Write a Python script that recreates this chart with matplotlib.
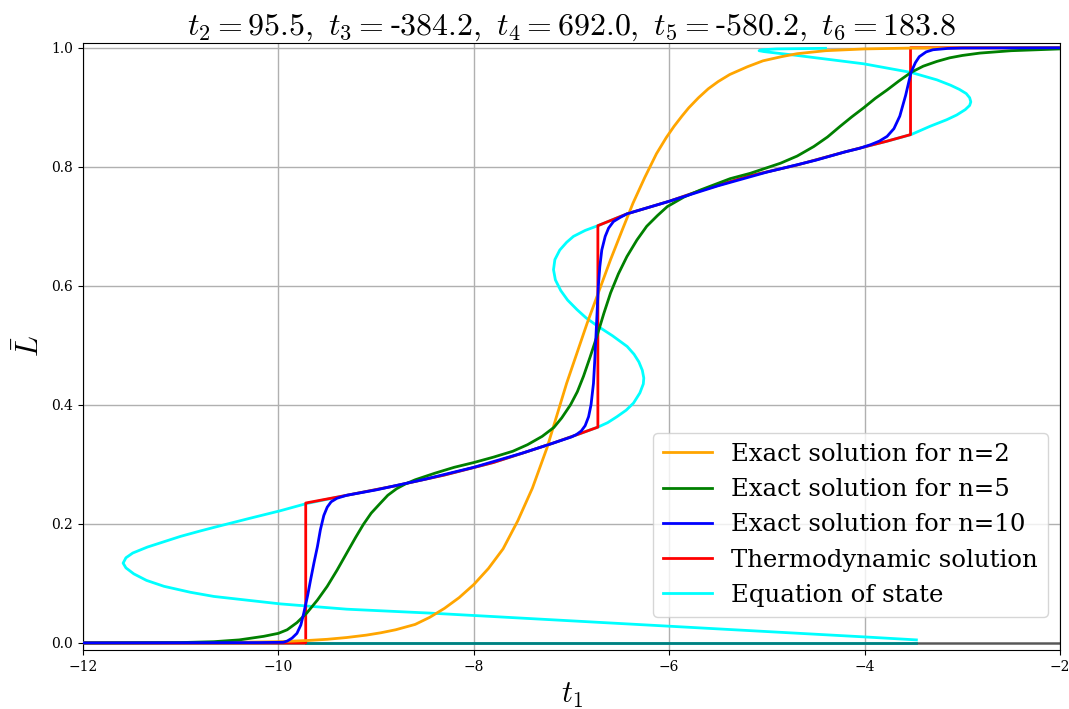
import matplotlib
matplotlib.use("Agg")
import matplotlib.pyplot as plt

plt.rcParams['font.family'] = 'DejaVu Serif'
plt.rcParams['mathtext.fontset'] = 'cm'

# couplings shown in the title
coupling_names = ['t_2', 't_3', 't_4', 't_5', 't_6']
coupling_values = [95.5, -384.2, 692.0, -580.2, 183.8]

# exact solution, n=2
n2_t1 = [-12.0, -10.5, -10.0, -9.7, -9.5, -9.3, -9.1, -8.95, -8.8, -8.6, -8.45, -8.3, -8.15,
         -8.0, -7.85, -7.7, -7.55, -7.4, -7.25, -7.05, -6.84, -6.6, -6.48, -6.37, -6.25,
         -6.13, -6.03, -5.95, -5.87, -5.8, -5.7, -5.6, -5.5, -5.38, -5.2, -5.04, -4.85, -4.69,
         -4.4, -4.0, -3.5, -2.0]
n2_L = [0.0, 0.0008, 0.002, 0.004, 0.006, 0.009, 0.013, 0.017, 0.022, 0.031, 0.043, 0.058, 0.076,
        0.098, 0.125, 0.158, 0.205, 0.260, 0.328, 0.436, 0.537, 0.644, 0.694, 0.739, 0.782,
        0.822, 0.849, 0.868, 0.885, 0.899, 0.916, 0.931, 0.943, 0.955, 0.968, 0.978, 0.985, 0.990,
        0.995, 0.998, 0.9995, 1.0]

# exact solution, n=5
n5_t1 = [-12.0, -11.0, -10.66, -10.4, -10.15, -10.0, -9.91, -9.81, -9.71, -9.6, -9.5, -9.4,
         -9.3, -9.21, -9.13, -9.05, -8.96, -8.88, -8.79, -8.7, -8.6, -8.4, -8.2, -8.0, -7.8,
         -7.6, -7.45, -7.3, -7.18, -7.1, -7.01, -6.94, -6.877, -6.81, -6.74, -6.67, -6.6,
         -6.52, -6.433, -6.33, -6.23, -6.12, -6.02, -5.85, -5.68, -5.376, -5.17, -4.86, -4.69,
         -4.52, -4.38, -4.25, -4.13, -4.01, -3.89, -3.77, -3.65, -3.525, -3.4, -3.26, -3.13,
         -3.0, -2.82, -2.5, -2.0]
n5_L = [0.0, 0.0005, 0.002, 0.005, 0.011, 0.016, 0.022, 0.034, 0.050, 0.072, 0.095, 0.122,
        0.151, 0.177, 0.199, 0.218, 0.234, 0.248, 0.259, 0.267, 0.274, 0.285, 0.295, 0.303, 0.312,
        0.322, 0.333, 0.347, 0.362, 0.378, 0.400, 0.422, 0.448, 0.480, 0.515, 0.553, 0.588,
        0.620, 0.649, 0.677, 0.700, 0.718, 0.733, 0.749, 0.761, 0.780, 0.789, 0.806, 0.818,
        0.834, 0.850, 0.868, 0.884, 0.899, 0.915, 0.929, 0.944, 0.9585, 0.969, 0.977, 0.983,
        0.987, 0.991, 0.995, 0.998]

# exact solution, n=10
n10_t1 = [-12.0, -10.2, -9.95, -9.91, -9.86, -9.81, -9.77, -9.74, -9.70, -9.67, -9.635, -9.60,
          -9.57, -9.535, -9.50, -9.46, -9.40, -9.30, -9.0, -8.5, -8.0, -7.5, -7.2, -7.0, -6.95,
          -6.90, -6.86, -6.825, -6.80, -6.775, -6.76, -6.74, -6.725, -6.71, -6.69, -6.655,
          -6.62, -6.57, -6.50, -6.43, -6.0, -5.5, -5.0, -4.5, -4.2, -4.05, -3.94, -3.85, -3.77,
          -3.70, -3.64, -3.58, -3.525, -3.48, -3.44, -3.37, -3.30, -3.15, -3.0, -2.0]
n10_L = [0.0, 0.0005, 0.001, 0.003, 0.008, 0.016, 0.030, 0.050, 0.080, 0.106, 0.135, 0.162,
         0.190, 0.214, 0.228, 0.237, 0.243, 0.248, 0.257, 0.275, 0.295, 0.319, 0.335, 0.346, 0.350,
         0.356, 0.365, 0.380, 0.400, 0.436, 0.480, 0.548, 0.600, 0.632, 0.660, 0.683,
         0.697, 0.708, 0.715, 0.721, 0.742, 0.768, 0.791, 0.811, 0.825, 0.831, 0.837, 0.843, 0.851,
         0.864, 0.885, 0.920, 0.9585, 0.975, 0.985, 0.993, 0.9966, 0.9988, 0.9995, 1.0]

# thermodynamic (Maxwell) solution
thermo_t1 = [-12.0, -9.72, -9.72, -9.3, -8.8, -8.3, -7.8, -7.46, -7.2, -6.94, -6.73, -6.73,
             -6.43, -6.0, -5.68, -5.376, -5.17, -4.69, -4.2, -4.01, -3.77, -3.53, -3.53, -2.0]
thermo_L = [0.0, 0.0, 0.235, 0.248, 0.264, 0.282, 0.303, 0.321, 0.335, 0.350, 0.3625, 0.701,
            0.721, 0.742, 0.760, 0.775, 0.785, 0.803, 0.825, 0.833, 0.843, 0.854, 1.0, 1.0]

# equation of state t1(L)
eos_t1 = [-3.47, -4.0, -5.0, -6.0, -7.0, -8.0, -8.445, -9.30, -9.98, -10.66, -10.9, -11.17,
          -11.35, -11.48, -11.56, -11.589, -11.56, -11.49, -11.34, -11.17, -11.0, -10.8,
          -10.66, -10.3, -9.98, -9.714, -9.3, -8.8, -8.3, -7.8, -7.46, -7.2, -6.94, -6.73,
          -6.63, -6.535, -6.44, -6.365, -6.30, -6.265, -6.26, -6.275, -6.31, -6.36, -6.43,
          -6.58, -6.73, -6.85, -6.944, -7.04, -7.11, -7.165, -7.184, -7.17, -7.12, -7.05,
          -6.98, -6.86, -6.73, -6.43, -6.0, -5.68, -5.376, -5.17, -4.69, -4.2, -4.01, -3.77,
          -3.525, -3.33, -3.16, -3.057, -2.97, -2.925, -2.913, -2.925, -2.96, -3.03, -3.12,
          -3.26, -3.525, -4.01, -4.69, -4.9, -5.03, -5.08, -5.05, -4.9, -4.4]
eos_L = [0.005, 0.010, 0.019, 0.028, 0.037, 0.046, 0.050, 0.0566, 0.0655, 0.078, 0.085, 0.095,
         0.105, 0.116, 0.126, 0.134, 0.143, 0.151, 0.161, 0.170, 0.179, 0.188,
         0.194, 0.209, 0.222, 0.234, 0.248, 0.264, 0.282, 0.303, 0.321, 0.335, 0.350, 0.3625,
         0.370, 0.380, 0.391, 0.403, 0.420, 0.435, 0.445, 0.458, 0.472, 0.485, 0.498,
         0.516, 0.532, 0.546, 0.560, 0.576, 0.592, 0.610, 0.627, 0.644, 0.660, 0.673,
         0.683, 0.693, 0.701, 0.721, 0.742, 0.760, 0.775, 0.785, 0.803, 0.825, 0.833, 0.843,
         0.854, 0.868, 0.879, 0.887, 0.896, 0.903, 0.909, 0.916, 0.923, 0.930, 0.937,
         0.946, 0.9585, 0.973, 0.987, 0.991, 0.9935, 0.995, 0.9965, 0.998, 0.999]

# trivial L=0 branch
zero_t1 = [-9.72, -3.47]
zero_L = [0.0, 0.0]

fig = plt.figure(figsize=(10.69, 7.09), dpi=100)
ax = fig.add_axes([0.0776, 0.0832, 0.9140, 0.8562])

ax.plot(zero_t1, zero_L, color='cyan', lw=2, zorder=1.5)
ax.axhline(0, color='k', alpha=0.5, lw=2, zorder=1.8)

ax.plot(eos_t1, eos_L, color='cyan', lw=2, zorder=2, label='Equation of state')
ax.plot(thermo_t1, thermo_L, color='red', lw=2, zorder=3, label='Thermodynamic solution')
ax.plot(n2_t1, n2_L, color='orange', lw=2, zorder=4, label='Exact solution for n=2')
ax.plot(n5_t1, n5_L, color='green', lw=2, zorder=5, label='Exact solution for n=5')
ax.plot(n10_t1, n10_L, color='blue', lw=2, zorder=6, label='Exact solution for n=10')

ax.set_xlim(-12, -2)
ax.set_ylim(-0.012, 1.008)
ax.grid(True, color='#b0b0b0', lw=1)
ax.set_axisbelow(True)

ax.set_xlabel(r'$t_1$', fontsize=22)
ax.set_ylabel(r'$\bar{L}$', fontsize=22)

# minus signs are kept as plain hyphens outside math mode
parts = []
for name, val in zip(coupling_names, coupling_values):
    if val < 0:
        parts.append('$%s=$-$%.1f' % (name, -val))
    else:
        parts.append('$%s=%.1f' % (name, val))
title = r',\ $'.join(parts) + '$'
ax.set_title(title, fontsize=23)

handles, labels = ax.get_legend_handles_labels()
order = [2, 3, 4, 1, 0]
ax.legend([handles[i] for i in order], [labels[i] for i in order],
          loc='lower right', bbox_to_anchor=(1.0, 0.035), fontsize=17.6)

fig.savefig('out.png', dpi=100)
